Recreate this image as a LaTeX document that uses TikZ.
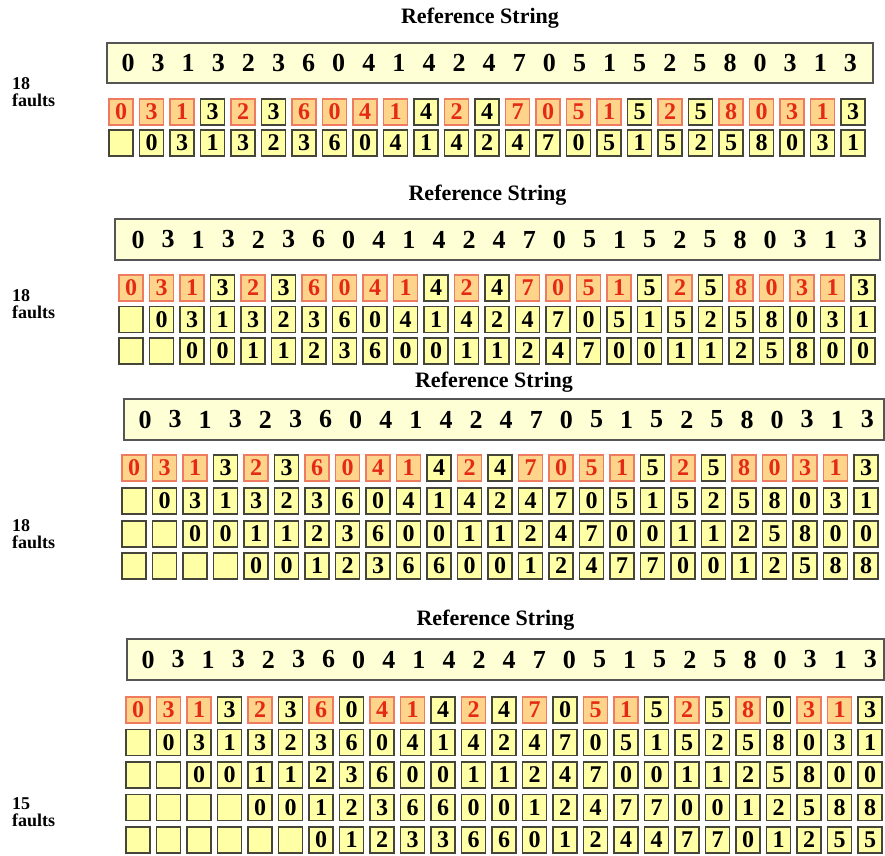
\documentclass[tikz,border=0pt]{standalone}
\usepackage{fontspec}
\setmainfont{Liberation Serif}
\usetikzlibrary{positioning}
\definecolor{cellfill}{HTML}{FFFFA6}
\definecolor{cellline}{HTML}{45453A}
\definecolor{faultfill}{HTML}{FDD489}
\definecolor{faultline}{HTML}{EE7A60}
\definecolor{faultdigit}{HTML}{E42A16}
\definecolor{reffill}{HTML}{FFFFD6}
\definecolor{refline}{HTML}{555555}

\tikzset{
  hit cell/.style={draw=cellline, fill=cellfill, line width=1.6pt, minimum width=24pt, minimum height=26pt, inner sep=0pt, font=\fontsize{24}{24}\selectfont\bfseries},
  fault cell/.style={hit cell, draw=faultline, fill=faultfill, text=faultdigit},
  refbox/.style={draw=refline, fill=reffill, line width=1.8pt, inner sep=0pt},
  refdigit/.style={inner sep=0pt, font=\fontsize{26}{26}\selectfont\bfseries},
  headline/.style={inner sep=0pt, font=\fontsize{22}{22}\selectfont\bfseries},
  faultlabel/.style={align=left, anchor=west, inner sep=0pt, font=\fontsize{18}{17}\selectfont\bfseries}
}

% reference string and stack rows
\newcommand{\refs}{0,3,1,3,2,3,6,0,4,1,4,2,4,7,0,5,1,5,2,5,8,0,3,1,3}
\newcommand{\rowA}{0/fault,3/fault,1/fault,3/hit,2/fault,3/hit,6/fault,0/fault,4/fault,1/fault,4/hit,2/fault,4/hit,7/fault,0/fault,5/fault,1/fault,5/hit,2/fault,5/hit,8/fault,0/fault,3/fault,1/fault,3/hit}
\newcommand{\rowAA}{0/fault,3/fault,1/fault,3/hit,2/fault,3/hit,6/fault,0/hit,4/fault,1/fault,4/hit,2/fault,4/hit,7/fault,0/hit,5/fault,1/fault,5/hit,2/fault,5/hit,8/fault,0/hit,3/fault,1/fault,3/hit}
\newcommand{\rowB}{{},0,3,1,3,2,3,6,0,4,1,4,2,4,7,0,5,1,5,2,5,8,0,3,1}
\newcommand{\rowC}{{},{},0,0,1,1,2,3,6,0,0,1,1,2,4,7,0,0,1,1,2,5,8,0,0}
\newcommand{\rowD}{{},{},{},{},0,0,1,2,3,6,6,0,0,1,2,4,7,7,0,0,1,2,5,8,8}
\newcommand{\rowE}{{},{},{},{},{},{},0,1,2,3,3,6,6,0,1,2,4,4,7,7,0,1,2,5,5}

\newcommand{\faultrow}[4]{%
  \foreach \v/\k [count=\i from 0] in #4
    \node[\k\space cell] (#1c\i) at (#2+30.5*\i, #3) {\v};}
\newcommand{\cellrow}[4]{%
  \foreach \v [count=\i from 0] in #4
    \node[hit cell] (#1c\i) at (#2+30.5*\i, #3) {\v};}

\begin{document}
\begin{tikzpicture}[x=1pt, y=-1pt]
  \useasboundingbox (0,0) rectangle (885,855);

  % Titles, reference strings and fault counts
  \foreach \s/\ty/\bl/\br/\bt/\bb/\dx/\nf/\ly in {1/18/107/873/43/83/128/18/92, 2/195/115/880/219/260/138/18/304, 3/382/124/884/399/440/145/18/534, 4/620/127/884/639/680/148/15/812}{
    \node[headline] (title\s) at ({(\bl+\br)/2-10}, \ty) {Reference String};
    \node[refbox, minimum width={(\br-\bl)*1pt}, minimum height={(\bb-\bt)*1pt}] (ref\s) at ({(\bl+\br)/2}, {(\bt+\bb)/2}) {};
    \foreach \d [count=\i from 0] in \refs
      \node[refdigit] (ref\s d\i) at (\dx+30.1*\i, {(\bt+\bb)/2}) {\d};
    \node[faultlabel] (faults\s) at (12, \ly) {\nf\\faults};
  }

  % Section 1
  \faultrow{s1r1}{121}{112}{\rowA}
  \cellrow{s1r2}{121}{143}{\rowB}

  % Section 2
  \faultrow{s2r1}{131}{288}{\rowA}
  \cellrow{s2r2}{131}{319.5}{\rowB}
  \cellrow{s2r3}{131}{351}{\rowC}

  % Section 3
  \faultrow{s3r1}{134}{468}{\rowA}
  \cellrow{s3r2}{134}{501}{\rowB}
  \cellrow{s3r3}{134}{534}{\rowC}
  \cellrow{s3r4}{134}{566}{\rowD}

  % Section 4
  \faultrow{s4r1}{138}{710}{\rowAA}
  \cellrow{s4r2}{138}{742.5}{\rowB}
  \cellrow{s4r3}{138}{775}{\rowC}
  \cellrow{s4r4}{138}{807.5}{\rowD}
  \cellrow{s4r5}{138}{840}{\rowE}
\end{tikzpicture}
\end{document}
